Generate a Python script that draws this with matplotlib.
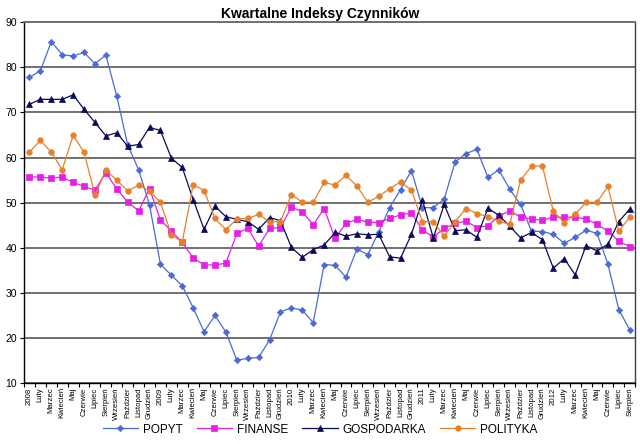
import matplotlib
matplotlib.use("Agg")
import matplotlib.pyplot as plt
import numpy as np

plt.rcParams['font.family'] = ['Liberation Sans', 'DejaVu Sans']

months = ["Luty", "Marzec", "Kwiecień", "Maj", "Czerwie", "Lipiec", "Sierpień",
          "Wrzesień", "Paździer", "Listopad", "Grudzień"]
labels = (["2008"] + months + ["2009"] + months + ["2010"] + months +
          ["2011"] + months + ["2012"] + months[:7])

popyt = [77.8, 79.2, 85.7, 82.8, 82.5, 83.3, 80.8, 82.7, 73.6, 62.8,
         57.3, 49.5, 36.4, 33.9, 31.6, 26.7, 21.4, 25.0, 21.3, 15.1,
         15.5, 15.7, 19.6, 25.8, 26.7, 26.2, 23.4, 36.3, 36.1, 33.5,
         39.7, 38.5, 43.5, 48.9, 52.9, 57.1, 48.9, 48.9, 50.8, 59.0,
         60.9, 61.8, 55.6, 57.3, 53.0, 49.6, 43.7, 43.6, 43.0, 41.0,
         42.3, 43.9, 43.2, 36.4, 26.3, 21.8]
finanse = [55.7, 55.7, 55.4, 55.7, 54.5, 53.6, 52.8, 56.6, 53.1, 50.1,
           48.2, 53.1, 46.2, 43.7, 41.2, 37.8, 36.2, 36.2, 36.6, 43.2,
           44.3, 40.4, 44.3, 44.5, 49.0, 48.0, 45.1, 48.7, 42.1, 45.4,
           46.3, 45.7, 45.6, 46.5, 47.3, 47.7, 44.0, 42.4, 44.3, 45.4,
           45.9, 44.5, 44.9, 47.0, 48.2, 46.8, 46.4, 46.1, 46.8, 46.8,
           46.8, 46.4, 45.2, 43.7, 41.5, 40.2]
gospodarka = [71.8, 72.9, 72.9, 72.9, 73.9, 70.7, 67.8, 64.8, 65.5, 62.5,
              62.9, 66.7, 66.0, 59.9, 57.8, 50.7, 44.1, 49.2, 46.9, 46.3,
              45.8, 44.1, 46.7, 46.0, 40.1, 37.9, 39.6, 40.6, 43.4, 42.6,
              43.1, 42.9, 43.0, 38.0, 37.7, 43.0, 50.6, 42.2, 49.6, 43.8,
              44.0, 42.3, 48.8, 47.2, 44.8, 42.2, 43.4, 41.8, 35.5, 37.6,
              34.0, 40.5, 39.3, 40.8, 45.8, 48.6]
polityka = [61.2, 63.8, 61.2, 57.3, 64.9, 61.2, 51.7, 57.2, 55.0, 52.6,
            53.9, 52.6, 50.1, 42.9, 41.3, 54.0, 52.7, 46.5, 44.0, 46.4,
            46.5, 47.4, 45.8, 45.8, 51.8, 50.1, 50.1, 54.5, 53.9, 56.1,
            53.7, 50.1, 51.4, 53.1, 54.6, 52.8, 45.8, 45.8, 42.6, 45.8,
            48.7, 47.6, 46.9, 45.9, 45.2, 55.0, 58.1, 58.1, 48.1, 45.6,
            47.4, 50.1, 50.1, 53.6, 43.7, 46.8]

series = [
    ("POPYT", popyt, "#4a6ad6", "D", 3.2),
    ("FINANSE", finanse, "#e61ee6", "s", 3.8),
    ("GOSPODARKA", gospodarka, "#0a0a5a", "^", 4.5),
    ("POLITYKA", polityka, "#e8802a", "o", 4.0),
]

fig = plt.figure(figsize=(6.4, 4.44), dpi=100)
ax = fig.add_axes([0.0375, 0.137, 0.955, 0.813])

x = np.arange(len(labels))
for name, vals, col, mk, ms in series:
    ax.plot(x, vals, color=col, marker=mk, markersize=ms, linewidth=0.9,
            label=name, markeredgewidth=0.5)

ax.set_xlim(-0.5, len(labels) - 0.5)
ax.set_ylim(10, 90)
ax.set_yticks(range(10, 91, 10))
ax.tick_params(axis='y', labelsize=7.5, length=3, width=0.8, pad=2)
ax.yaxis.grid(True, color="#707070", linewidth=1.4)
ax.set_axisbelow(True)

ax.set_xticks(x)
ax.set_xticklabels(labels, rotation=90, fontsize=5.6)
ax.tick_params(axis='x', length=0, pad=3)
ax.set_xticks(np.arange(-0.5, len(labels), 1.0), minor=True)
ax.tick_params(axis='x', which='minor', length=3, width=0.8)

for s in ["left", "bottom"]:
    ax.spines[s].set_color("black")
    ax.spines[s].set_linewidth(1.0)
ax.spines["top"].set_color("#707070")
ax.spines["top"].set_linewidth(1.4)
ax.spines["right"].set_color("#404040")
ax.spines["right"].set_linewidth(1.0)

fig.text(0.5, 0.985, "Kwartalne Indeksy Czynników", ha="center", va="top",
         fontsize=10, fontweight="bold")

fig.legend(loc="lower center", bbox_to_anchor=(0.5, -0.005), ncol=4,
           frameon=False, fontsize=8.5, handlelength=3, columnspacing=1.2,
           handletextpad=0.4)

fig.savefig("out.png", dpi=100)
